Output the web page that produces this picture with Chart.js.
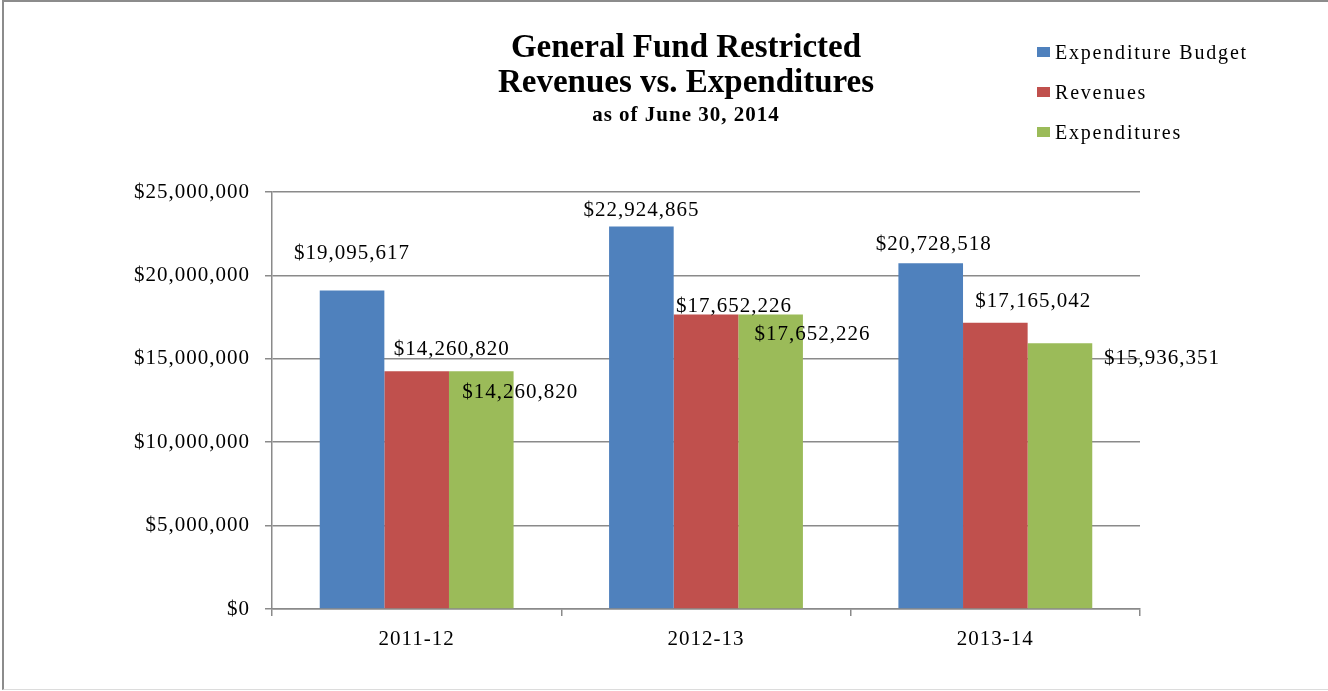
<!DOCTYPE html>
<html>
<head>
<meta charset="utf-8">
<script src="https://cdn.jsdelivr.net/npm/chart.js@4/dist/chart.umd.min.js"></script>
<style>
  html, body { margin: 0; padding: 0; background: #fff; }
  body { width: 1328px; height: 691px; position: relative; overflow: hidden;
         font-family: "Liberation Serif", "Times New Roman", serif; color: #000; }
  #frame { position: absolute; left: 2px; top: 0; width: 1340px; height: 690px;
           border-top: 2px solid #8c8c8c; border-left: 2px solid #8c8c8c;
           border-bottom: 1px solid #dcdcdc; box-sizing: border-box; }
  canvas { position: absolute; left: 0; top: 0; }
  .title { position: absolute; left: 436px; width: 500px; text-align: center; font-weight: bold; white-space: nowrap; }
  .t1 { font-size: 33px; line-height: 34px; }
  .t2 { font-size: 21px; line-height: 20px; letter-spacing: 1px; }
  #legend { position: absolute; left: 1037px; top: 32px; }
  .lg-row { height: 40px; display: flex; align-items: center; font-size: 20px; letter-spacing: 1.8px; }
  .lg-box { width: 13px; height: 10px; margin-right: 5px; }
</style>
</head>
<body>
<div id="frame"></div>
<canvas id="chart" width="1328" height="691"></canvas>
<div class="title t1" style="top:29px">General Fund Restricted</div>
<div class="title t1" style="top:64px">Revenues vs. Expenditures</div>
<div class="title t2" style="top:104px">as of June 30, 2014</div>
<div id="legend"></div>
<script>
  // fiscal years
  var years = ["2011-12", "2012-13", "2013-14"];

  var seriesNames = ["Expenditure Budget", "Revenues", "Expenditures"];
  var budget = [19095617, 22924865, 20728518];
  var revenues = [14260820, 17652226, 17165042];
  var expenditures = [14260820, 17652226, 15936351];

  var yTicks = [0, 5000000, 10000000, 15000000, 20000000, 25000000];

  var colors = ["#4F81BD", "#C0504D", "#9BBB59"];
  // where Excel put each value label, relative to the top centre of its bar
  var labelShift = [
    [[0, -37], [0, -16], [3, -19]],
    [[35, -22], [28, -8], [38, -21]],
    [[39, 21], [42, 20], [102, 15]]
  ];

  var FONT = '"Liberation Serif", "Times New Roman", serif';
  var GRID = "#8a8a8a";

  function money(v) {
    return "$" + Number(v).toLocaleString("en-US");
  }

  var values = [budget, revenues, expenditures];
  var datasets = seriesNames.map(function (name, i) {
    return {
      label: name,
      data: values[i],
      backgroundColor: colors[i],
      borderWidth: 0,
      categoryPercentage: 0.67,
      barPercentage: 1.0
    };
  });

  var spacingPlugin = {
    id: "spacing",
    beforeDraw: function (chart) { chart.ctx.letterSpacing = "1px"; }
  };

  var valueLabels = {
    id: "valueLabels",
    afterDatasetsDraw: function (chart) {
      var ctx = chart.ctx;
      ctx.save();
      ctx.font = "21px " + FONT;
      ctx.fillStyle = "#000";
      ctx.textAlign = "center";
      ctx.textBaseline = "middle";
      chart.data.datasets.forEach(function (ds, i) {
        var meta = chart.getDatasetMeta(i);
        meta.data.forEach(function (bar, j) {
          var s = labelShift[i][j];
          ctx.fillText(money(ds.data[j]), bar.x + s[0], bar.y + s[1]);
        });
      });
      ctx.restore();
    }
  };

  var chart = new Chart(document.getElementById("chart").getContext("2d"), {
    type: "bar",
    data: { labels: years, datasets: datasets },
    options: {
      responsive: false,
      animation: false,
      layout: { padding: { top: 192, right: 188, left: 0, bottom: 0 } },
      plugins: {
        legend: { display: false },
        title: { display: false },
        tooltip: { enabled: false }
      },
      scales: {
        x: {
          grid: { offset: true, drawOnChartArea: false, drawTicks: true, tickLength: 7, color: GRID, lineWidth: 1.5 },
          border: { display: true, color: GRID, width: 1.5 },
          ticks: { color: "#000", font: { family: FONT, size: 21 }, padding: 11 },
          afterFit: function (s) { s.height = 82; }
        },
        y: {
          min: 0,
          max: 25000000,
          afterBuildTicks: function (s) {
            s.ticks = yTicks.map(function (v) { return { value: v }; });
          },
          grid: { color: GRID, lineWidth: 1.5, drawTicks: true, tickLength: 7, tickColor: GRID },
          border: { display: true, color: GRID, width: 1.5 },
          ticks: {
            color: "#000",
            font: { family: FONT, size: 21 },
            padding: 15,
            callback: function (v) { return money(v); }
          },
          afterFit: function (s) { s.width = 272; }
        }
      }
    },
    plugins: [spacingPlugin, valueLabels]
  });

  // legend built from the chart's datasets
  var lg = document.getElementById("legend");
  chart.data.datasets.forEach(function (ds) {
    var row = document.createElement("div");
    row.className = "lg-row";
    row.innerHTML = '<span class="lg-box" style="background:' + ds.backgroundColor + '"></span>' + ds.label;
    lg.appendChild(row);
  });
</script>
</body>
</html>
